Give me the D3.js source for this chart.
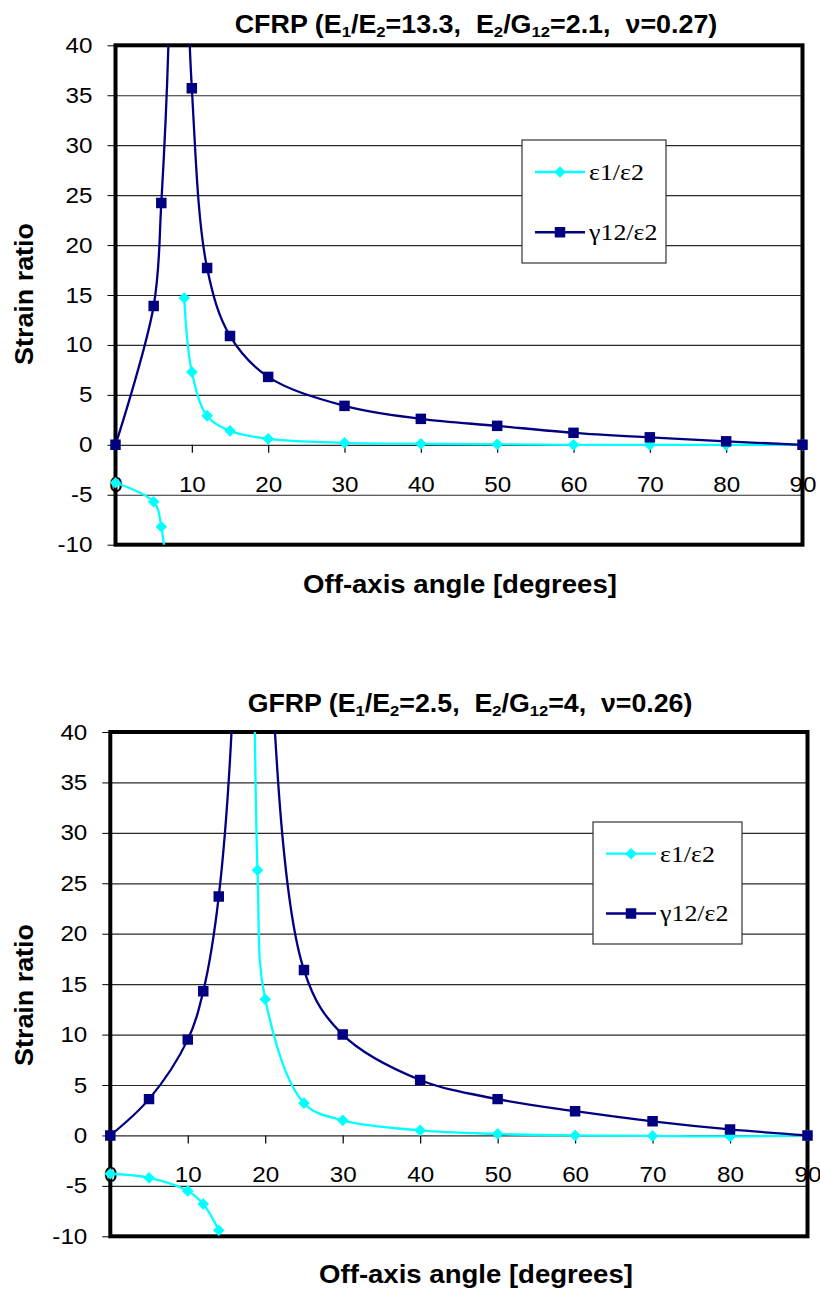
<!DOCTYPE html>
<html>
<head>
<meta charset="utf-8">
<script src="https://cdn.jsdelivr.net/npm/d3@7"></script>
<style>
  html, body { margin: 0; padding: 0; background: #fff; }
  svg { display: block; }
</style>
</head>
<body>
<div id="chart"></div>
<script>
// CFRP panel (top)
const angleCFRP = [0, 5, 6, 7, 8, 9, 10, 12, 15, 20, 30, 40, 50, 60, 70, 80, 90]
const epsCFRP = [-3.8, -5.7, -8.2, -16, null, 14.7, 7.3, 2.9, 1.4, 0.6, 0.2, 0.1, 0.05, 0, 0, 0, 0]
const gamCFRP = [0, 13.9, 24.2, 42, 150, 60, 35.7, 17.7, 10.9, 6.8, 3.9, 2.6, 1.9, 1.2, 0.75, 0.35, 0]
const titleCFRP = ['CFRP (E', ['1'], '/E', ['2'], '=13.3,  E', ['2'], '/G', ['12'], '=2.1,  ν=0.27)']

// GFRP panel (bottom)
const angleGFRP = [0, 5, 10, 12, 14, 16, 18, 19, 20, 25, 30, 40, 50, 60, 70, 80, 90]
const epsGFRP = [-3.8, -4.2, -5.5, -6.8, -9.4, null, 150, 26.3, 13.5, 3.2, 1.5, 0.5, 0.15, 0, -0.05, -0.1, 0]
const gamGFRP = [0, 3.6, 9.5, 14.3, 23.7, 46, 200, 90, 58, 16.4, 10, 5.5, 3.6, 2.4, 1.4, 0.6, 0]
const titleGFRP = ['GFRP (E', ['1'], '/E', ['2'], '=2.5,  E', ['2'], '/G', ['12'], '=4,  ν=0.26)']

const seriesNames = ['ε1/ε2', 'γ12/ε2']
const xTicks = [0, 10, 20, 30, 40, 50, 60, 70, 80, 90]
const yTicks = [-10, -5, 0, 5, 10, 15, 20, 25, 30, 35, 40]
const xDomain = [0, 90]
const yDomain = [-10, 40]
const xTitle = 'Off-axis angle [degrees]'
const yTitle = 'Strain ratio'

const COLORS = { eps: '#00FFFF', gam: '#000080', grid: '#2a2a2a', frame: '#000' }
const SANS = "'Liberation Sans', Arial, sans-serif"
const SERIF = "'Liberation Serif', 'Times New Roman', serif"
const TICK_STRETCH = 1.1

const W = 820
const H = 1293

const svg = d3.select('#chart').append('svg')
  .attr('width', W)
  .attr('height', H)
  .style('background', '#fff')

const panels = [
  {
    id: 'cfrp', title: titleCFRP, angle: angleCFRP, eps: epsCFRP, gam: gamCFRP,
    box: { left: 115.5, top: 45.3, right: 802.5, bottom: 544.7 },
    titleX: 476, titleY: 33, titleW: 483,
    xLabelX: 460, xLabelY: 593,
    yLabelX: 33, yLabelY: 294,
    legend: { x: 522, y: 140, w: 144, h: 123 }
  },
  {
    id: 'gfrp', title: titleGFRP, angle: angleGFRP, eps: epsGFRP, gam: gamGFRP,
    box: { left: 110.3, top: 732, right: 807.5, bottom: 1236.3 },
    titleX: 470, titleY: 712, titleW: 445,
    xLabelX: 476, xLabelY: 1283,
    yLabelX: 33, yLabelY: 995,
    legend: { x: 593, y: 822, w: 149, h: 122 }
  }
]

function richText (sel, parts) {
  parts.forEach(part => {
    if (Array.isArray(part)) {
      sel.append('tspan').attr('baseline-shift', '-28%').attr('font-size', '62%').text(part[0])
    } else {
      sel.append('tspan').text(part)
    }
  })
}

// squeeze / stretch a label so it spans the same width as in the picture
function fitWidth (sel, cx, cy, target, rotate) {
  const w = sel.node().getComputedTextLength()
  const k = target / w
  sel.attr('transform', `translate(${cx},${cy})${rotate ? ' rotate(-90)' : ''} scale(${k},1)`)
}

const diamond = d3.symbol(d3.symbolSquare, 68)
const square = d3.symbol(d3.symbolSquare, 110)

function drawPanel (p) {
  const { left, top, right, bottom } = p.box
  const g = svg.append('g').attr('class', p.id)

  const x = d3.scaleLinear().domain(xDomain).range([left, right])
  const y = d3.scaleLinear().domain(yDomain).range([bottom, top])

  // horizontal gridlines
  const grid = g.append('g')
    .attr('transform', `translate(${left},0)`)
    .call(d3.axisLeft(y).tickValues(yTicks.slice(1, -1)).tickSize(-(right - left)).tickFormat(''))
  grid.select('.domain').remove()
  grid.selectAll('line').attr('stroke', COLORS.grid).attr('stroke-width', 1.2)

  // y axis
  const yAxis = g.append('g')
    .attr('transform', `translate(${left},0)`)
    .call(d3.axisLeft(y).tickValues(yTicks).tickSize(8).tickFormat(d => String(d)))
  yAxis.select('.domain').remove()
  yAxis.attr('font-family', SANS).attr('font-size', 22)
  yAxis.selectAll('line').attr('stroke', '#000')
  yAxis.selectAll('text')
    .attr('fill', '#000')
    .attr('x', -23 / TICK_STRETCH)
    .attr('transform', `scale(${TICK_STRETCH},1)`)

  // x axis runs along the zero line
  const xAxis = g.append('g')
    .attr('transform', `translate(0,${y(0)})`)
    .call(d3.axisBottom(x).tickValues(xTicks).tickSize(8))
  xAxis.select('.domain').remove()
  xAxis.attr('font-family', SANS).attr('font-size', 22)
  xAxis.selectAll('line').attr('stroke', '#000').attr('stroke-width', 1.2)
  xAxis.selectAll('text')
    .attr('y', 47).attr('dy', null).attr('fill', '#000')
    .attr('transform', `scale(${TICK_STRETCH},1)`)

  // plot frame
  g.append('rect')
    .attr('x', left).attr('y', top)
    .attr('width', right - left).attr('height', bottom - top)
    .attr('fill', 'none')
    .attr('stroke', COLORS.frame)
    .attr('stroke-width', 4)

  // clip: exact top/bottom, a little slack on the sides for the end markers
  const clipId = 'clip-' + p.id
  g.append('clipPath').attr('id', clipId)
    .append('rect')
    .attr('x', left - 10).attr('y', top)
    .attr('width', right - left + 20).attr('height', bottom - top)

  const plot = g.append('g').attr('clip-path', `url(#${clipId})`)

  const series = [
    { key: 'eps', values: p.eps, color: COLORS.eps, marker: diamond, rot: 45 },
    { key: 'gam', values: p.gam, color: COLORS.gam, marker: square, rot: 0 }
  ]

  const line = d3.line()
    .defined(d => d[1] !== null)
    .x(d => x(d[0]))
    .y(d => y(d[1]))
    .curve(d3.curveCatmullRom.alpha(0.5))

  series.forEach(s => {
    const pts = p.angle.map((a, i) => [a, s.values[i]])
    plot.append('path')
      .datum(pts)
      .attr('fill', 'none')
      .attr('stroke', s.color)
      .attr('stroke-width', 2.3)
      .attr('d', line)
    plot.selectAll(null)
      .data(pts.filter(d => d[1] !== null))
      .join('path')
      .attr('d', s.marker)
      .attr('transform', d => `translate(${x(d[0])},${y(d[1])}) rotate(${s.rot})`)
      .attr('fill', s.color)
  })

  // legend
  const lg = g.append('g').attr('transform', `translate(${p.legend.x},${p.legend.y})`)
  lg.append('rect')
    .attr('width', p.legend.w).attr('height', p.legend.h)
    .attr('fill', '#fff').attr('stroke', '#333').attr('stroke-width', 1.2)
  const rowY = d3.scalePoint().domain(seriesNames).range([p.legend.h * 0.26, p.legend.h * 0.75])
  series.forEach((s, i) => {
    const ry = rowY(seriesNames[i])
    lg.append('line')
      .attr('x1', 13).attr('x2', 63).attr('y1', ry).attr('y2', ry)
      .attr('stroke', s.color).attr('stroke-width', 2.3)
    lg.append('path')
      .attr('d', s.marker)
      .attr('transform', `translate(38,${ry}) rotate(${s.rot})`)
      .attr('fill', s.color)
    lg.append('text')
      .attr('x', 67 / 1.08).attr('y', ry + 8)
      .attr('transform', 'scale(1.08,1)')
      .attr('font-family', SERIF).attr('font-size', 24)
      .attr('fill', '#000')
      .text(seriesNames[i])
  })

  // title
  const title = g.append('text')
    .attr('font-family', SANS).attr('font-weight', 'bold').attr('font-size', 25)
    .attr('text-anchor', 'middle')
    .style('white-space', 'pre')
  richText(title, p.title)
  fitWidth(title, p.titleX, p.titleY, p.titleW)

  // axis titles
  const xl = g.append('text')
    .attr('font-family', SANS).attr('font-weight', 'bold').attr('font-size', 25)
    .attr('text-anchor', 'middle')
    .text(xTitle)
  fitWidth(xl, p.xLabelX, p.xLabelY, 314)

  const yl = g.append('text')
    .attr('font-family', SANS).attr('font-weight', 'bold').attr('font-size', 25)
    .attr('text-anchor', 'middle')
    .text(yTitle)
  fitWidth(yl, p.yLabelX, p.yLabelY, 142, true)
}

panels.forEach(drawPanel)
</script>
</body>
</html>
